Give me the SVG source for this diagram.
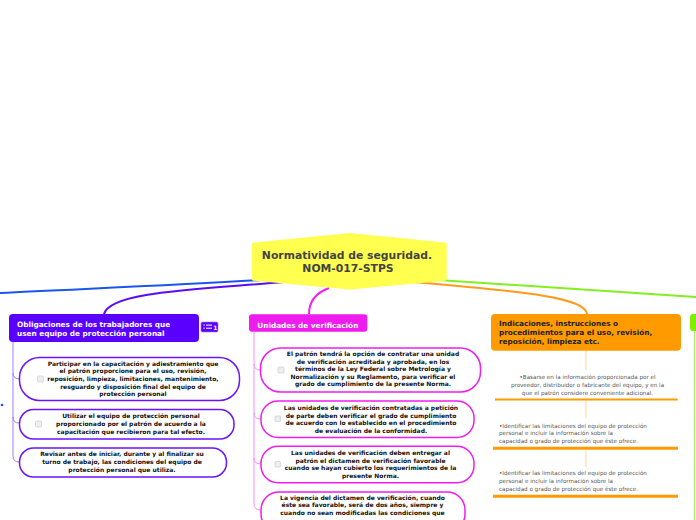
<svg xmlns="http://www.w3.org/2000/svg" width="696" height="520" viewBox="0 0 696 520">
<style>
.hdr{font-family:"DejaVu Sans",Verdana,sans-serif;font-weight:bold;font-size:7.3px;fill:#fff}
.ctr{font-family:"DejaVu Sans",Verdana,sans-serif;font-weight:bold;font-size:10.8px;fill:#444;text-anchor:middle}
.sub{font-family:"DejaVu Sans",Verdana,sans-serif;font-weight:bold;font-size:6px;fill:#111;text-anchor:middle}
.note{font-family:"DejaVu Sans",Verdana,sans-serif;font-size:5.6px;fill:#555}
.pill-p{fill:#fff;stroke:#6a14ff;stroke-width:1.5}
.pill-m{fill:#fff;stroke:#f01cf0;stroke-width:1.5}
.chk{fill:#eee;stroke:#c8c8c8;stroke-width:0.6}
.conn{fill:none;stroke-width:2}
.stem{fill:none;stroke-width:1}
</style>
<rect width="696" height="520" fill="#fff"/>
<g id="connectors">
<path class="conn" d="M262,280 C180,285 80,289 0,293" stroke="#1a55f2"/>
<path class="conn" d="M284,282 C190,290 110,292 104,314" stroke="#5c0cf5"/>
<path class="conn" d="M329,288 C313,294 309,304 309,314" stroke="#f020f0"/>
<path class="conn" d="M413,282 C530,292 585,298 587,314" stroke="#ff9a1a"/>
<path class="conn" d="M438,280 C540,286 620,292 696,297" stroke="#82f020"/>
<path class="stem" d="M13,342 L13,456 Q13,462 19,462 M13,373 Q13,379 20,379 M13,417 Q13,423 19,423" stroke="#a47cff"/>
<path class="stem" d="M254,332 L254,504 Q254,510 261,510 M254,364 Q254,370 260,370 M254,413 Q254,419 261,419 M254,458 Q254,464 261,464" stroke="#f590f5"/>
<path class="stem" d="M586,351 L586,370 M586,400 L586,418 M586,451 L586,467" stroke="#fcd49a" stroke-width="1.5"/>
<path class="stem" d="M694.5,331 L694.5,520" stroke="#a8f060"/>
</g>
<g id="center">
<path d="M251.7,244.5 Q251.7,242.8 253.5,242.6 L350,233 L445,242.6 Q446.7,242.8 446.7,244.5 L446.7,279 Q446.7,280.6 445,280.8 L350,289.5 L253.5,280.8 Q251.7,280.6 251.7,279 Z" fill="#ffff4f"/>
<text class="ctr" x="347" y="258.7">Normatividad de seguridad.</text>
<text class="ctr" x="348" y="271.7">NOM-017-STPS</text>
</g>
<g id="obligaciones">
<rect x="9" y="314" width="190" height="28" rx="4" fill="#5a00ff"/>
<text class="hdr" x="17" y="326.5">Obligaciones de los trabajadores que</text>
<text class="hdr" x="17" y="335.5">usen equipo de protección personal</text>
</g>
<g id="icon">
<rect x="201" y="322" width="17" height="10" rx="1.5" fill="#5a00ff" stroke="#9a70ff" stroke-width="0.6"/>
<rect x="203.5" y="324.5" width="1.2" height="1.2" fill="#fff"/>
<rect x="203.5" y="327.6" width="1.2" height="1.2" fill="#fff"/>
<rect x="206" y="324.6" width="6" height="1" fill="#fff"/>
<rect x="206" y="327.7" width="6" height="1" fill="#fff"/>
<text x="213.2" y="330" style="font-family:'DejaVu Sans',sans-serif;font-weight:bold;font-size:6px;fill:#fff">1</text>
</g>
<g id="dot"><circle cx="2" cy="405" r="1.3" fill="#1a55f2"/></g>
<g id="ob1">
<rect class="pill-p" x="19.5" y="357.5" width="220" height="43" rx="20"/>
<rect class="chk" x="37.5" y="376" width="6" height="6" rx="1"/>
<text class="sub" x="133" y="365.5">Participar en la capacitación y adiestramiento que</text>
<text class="sub" x="133" y="373.2">el patrón proporcione para el uso, revisión,</text>
<text class="sub" x="133" y="380.9">reposición, limpieza, limitaciones, mantenimiento,</text>
<text class="sub" x="133" y="388.6">resguardo y disposición final del equipo de</text>
<text class="sub" x="133" y="396.3">protección personal</text>
</g>
<g id="ob2">
<rect class="pill-p" x="19.5" y="409.5" width="214.5" height="29.5" rx="14"/>
<rect class="chk" x="35.5" y="421" width="6" height="6" rx="1"/>
<text class="sub" x="131" y="418">Utilizar el equipo de protección personal</text>
<text class="sub" x="131" y="426">proporcionado por el patrón de acuerdo a la</text>
<text class="sub" x="131" y="433.7">capacitación que recibieron para tal efecto.</text>
</g>
<g id="ob3">
<rect class="pill-p" x="19.5" y="448" width="207" height="29" rx="14"/>
<text class="sub" x="122" y="456.3">Revisar antes de iniciar, durante y al finalizar su</text>
<text class="sub" x="122" y="464.3">turno de trabajo, las condiciones del equipo de</text>
<text class="sub" x="122" y="472.3">protección personal que utiliza.</text>
</g>
<g id="unidades">
<rect x="249" y="314.3" width="118.3" height="17.4" rx="3" fill="#ee1cee"/>
<text class="hdr" x="257.3" y="327.5">Unidades de verificación</text>
</g>
<g id="un1">
<rect class="pill-m" x="260.5" y="348" width="220" height="44" rx="20"/>
<rect class="chk" x="278" y="367" width="6" height="6" rx="1"/>
<text class="sub" x="373" y="356.3">El patrón tendrá la opción de contratar una unidad</text>
<text class="sub" x="373" y="363.8">de verificación acreditada y aprobada, en los</text>
<text class="sub" x="373" y="371.3">términos de la Ley Federal sobre Metrología y</text>
<text class="sub" x="373" y="378.8">Normalización y su Reglamento, para verificar el</text>
<text class="sub" x="373" y="386.3">grado de cumplimiento de la presente Norma.</text>
</g>
<g id="un2">
<rect class="pill-m" x="261" y="401" width="213" height="36.5" rx="17"/>
<rect class="chk" x="275" y="416" width="5.5" height="5.5" rx="1"/>
<text class="sub" x="371" y="410.3">Las unidades de verificación contratadas a petición</text>
<text class="sub" x="371" y="417.8">de parte deben verificar el grado de cumplimiento</text>
<text class="sub" x="371" y="425.3">de acuerdo con lo establecido en el procedimiento</text>
<text class="sub" x="371" y="432.8">de evaluación de la conformidad.</text>
</g>
<g id="un3">
<rect class="pill-m" x="261" y="446.3" width="213" height="36.5" rx="17"/>
<rect class="chk" x="275" y="461.5" width="5.5" height="5.5" rx="1"/>
<text class="sub" x="370.5" y="455.3">Las unidades de verificación deben entregar al</text>
<text class="sub" x="370.5" y="462.8">patrón el dictamen de verificación favorable</text>
<text class="sub" x="370.5" y="470.3">cuando se hayan cubierto los requerimientos de la</text>
<text class="sub" x="370.5" y="477.8">presente Norma.</text>
</g>
<g id="un4">
<rect class="pill-m" x="261" y="492" width="204" height="40" rx="18"/>
<text class="sub" x="362.5" y="499.7">La vigencia del dictamen de verificación, cuando</text>
<text class="sub" x="362.5" y="507.3">éste sea favorable, será de dos años, siempre y</text>
<text class="sub" x="362.5" y="515">cuando no sean modificadas las condiciones que</text>
</g>
<g id="indicaciones">
<rect x="491" y="314" width="190" height="36.7" rx="4" fill="#ff9a00"/>
<text class="hdr" x="499" y="325.8" style="fill:#222">Indicaciones, instrucciones o</text>
<text class="hdr" x="499" y="335" style="fill:#222">procedimientos para el uso, revisión,</text>
<text class="hdr" x="499" y="344.2" style="fill:#222">reposición, limpieza etc.</text>
</g>
<g id="ind1">
<text class="note" x="587.5" y="379.3" text-anchor="middle">•Basarse en la información proporcionada por el</text>
<text class="note" x="587.5" y="387.3" text-anchor="middle">proveedor, distribuidor o fabricante del equipo, y en la</text>
<text class="note" x="587.5" y="395" text-anchor="middle">que el patrón considere conveniente adicional.</text>
<line x1="495" y1="399.5" x2="677.7" y2="399.5" stroke="#ff9a00" stroke-width="2"/>
</g>
<g id="ind2">
<text class="note" x="499" y="427.7">•Identificar las limitaciones del equipo de protección</text>
<text class="note" x="499" y="435.3">personal e incluir la información sobre la</text>
<text class="note" x="499" y="443.3">capacidad o grado de protección que éste ofrece.</text>
<line x1="493" y1="448.3" x2="678" y2="448.3" stroke="#ff9a00" stroke-width="3"/>
</g>
<g id="ind3">
<text class="note" x="499" y="475.3">•Identificar las limitaciones del equipo de protección</text>
<text class="note" x="499" y="483">personal e incluir la información sobre la</text>
<text class="note" x="499" y="491.3">capacidad o grado de protección que éste ofrece.</text>
<line x1="493" y1="496.3" x2="678" y2="496.3" stroke="#ff9a00" stroke-width="3"/>
</g>
<g id="green">
<rect x="690" y="314" width="20" height="17" rx="3" fill="#80ee00"/>
</g>
</svg>
